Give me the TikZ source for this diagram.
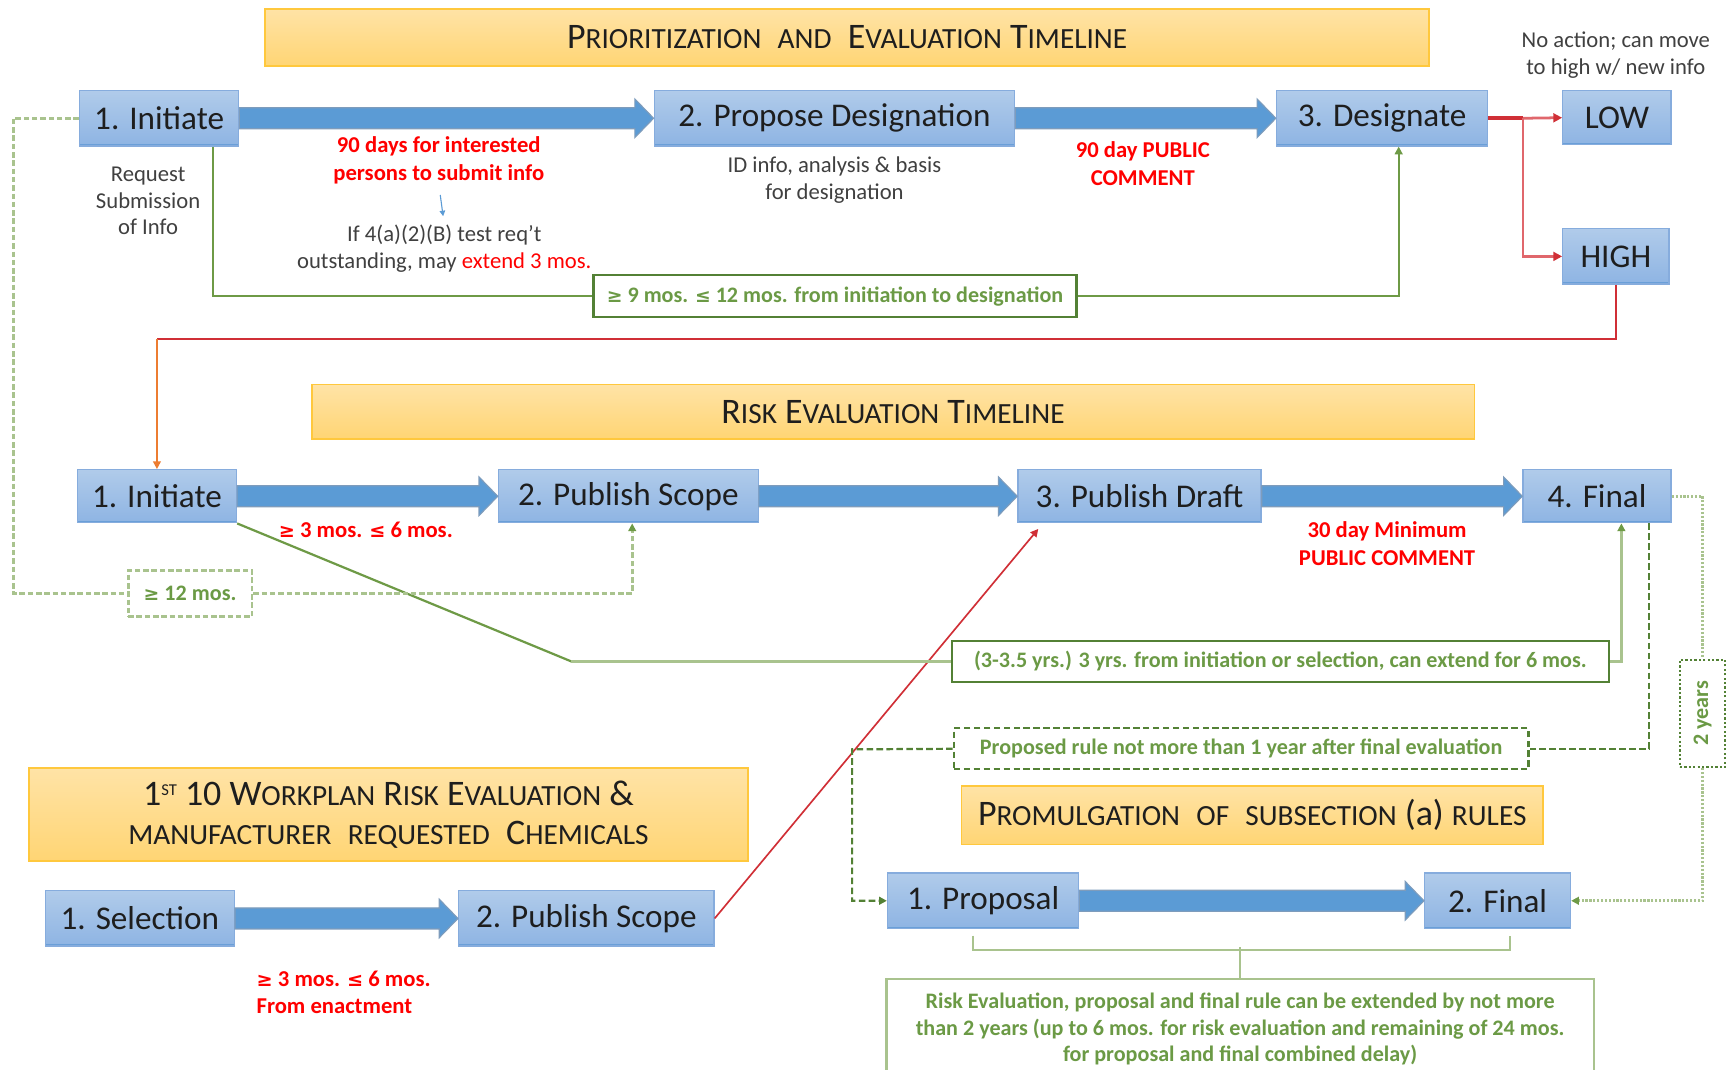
\documentclass[tikz,border=0pt]{standalone}
\usepackage{fontspec}
\setmainfont{Carlito}
\newfontfamily\symf{DejaVu Sans}[Scale=0.85]
\usetikzlibrary{arrows.meta,calc}
\definecolor{blueT}{HTML}{B0CBEA}
\definecolor{blueB}{HTML}{8EB4E3}
\definecolor{blueE}{HTML}{86ACDD}
\definecolor{blueD}{HTML}{6A9FD8}
\definecolor{arrF}{HTML}{5B9BD5}
\definecolor{arrE}{HTML}{7E9CBC}
\definecolor{ttlT}{HTML}{FFE3A6}
\definecolor{ttlB}{HTML}{FFD574}
\definecolor{ttlE}{HTML}{FFC83D}
\definecolor{redT}{HTML}{FF0000}
\definecolor{redL}{HTML}{D02F36}
\definecolor{redLL}{HTML}{E0676C}
\definecolor{orgL}{HTML}{ED7D31}
\definecolor{grnD}{HTML}{538135}
\definecolor{grnM}{HTML}{6E9A46}
\definecolor{grnL}{HTML}{A9C38E}
\definecolor{grnT}{HTML}{6B9A45}
\definecolor{txtD}{HTML}{1E1E1E}
\definecolor{txtG}{HTML}{404040}
\newcommand\gte{{\symf ≥}}
\newcommand\lte{{\symf ≤}}
\newcommand\sC[1]{{\fontsize{26.5}{30}\selectfont #1}}
\newcommand\barr[2]{\path[blockarr] let \p1=(#1.east), \p2=(#2.west) in
  (\x1,\y1+9.5pt) -- (\x2-17pt,\y1+9.5pt) -- (\x2-17pt,\y1+17.5pt) -- (\x2,\y1)
  -- (\x2-17pt,\y1-17.5pt) -- (\x2-17pt,\y1-9.5pt) -- (\x1,\y1-9.5pt) -- cycle;}
\tikzset{
  bbox/.style={rectangle, inner sep=0pt, minimum height=50pt, top color=blueT, bottom color=blueB,
    draw=blueE, line width=1.2pt, text=txtD, font=\fontsize{30}{36}\selectfont,
    path picture={\draw[blueD,line width=3pt] (path picture bounding box.south west) -- (path picture bounding box.south east);}},
  ttl/.style={rectangle, inner sep=0pt, top color=ttlT, bottom color=ttlB, draw=ttlE, line width=1.5pt,
    text=txtD, align=center, font=\fontsize{32.5}{36}\selectfont},
  lbl/.style={inner sep=0pt, align=center, text=txtG, font=\fontsize{20.5}{24}\selectfont},
  rlbl/.style={inner sep=0pt, align=center, text=redT, font=\bfseries\fontsize{20.5}{25}\selectfont},
  gbox/.style={rectangle, inner sep=0pt, draw=grnD, line width=2pt, fill=white, text=grnT,
    font=\bfseries\fontsize{20}{24}\selectfont, align=center},
  gline/.style={grnM, line width=2pt},
  glineL/.style={grnL, line width=3pt},
  darr/.style={-{Triangle[length=7pt,width=7pt]}},
  blockarr/.style={fill=arrF, draw=arrE, line width=1pt},
  dashL/.style={grnL, line width=3pt, dash pattern=on 5pt off 2.5pt},
  dashD/.style={grnD, line width=2pt, dash pattern=on 6pt off 3pt},
  dotL/.style={grnL, line width=3pt, dash pattern=on 2pt off 1.5pt},
  brk/.style={grnL, line width=2pt}
}
\begin{document}
\begin{tikzpicture}[x=1pt,y=-1pt]
\useasboundingbox (0,0) rectangle (1568,968);
\fill[white] (0,0) rectangle (1568,968);

% titles
\node[ttl, minimum width=1053pt, minimum height=52pt] (t1) at (766.5,34)
  {P\sC{RIORITIZATION}\ \ \sC{AND}\ \ E\sC{VALUATION}\ T\sC{IMELINE}};
\node[ttl, minimum width=1052pt, minimum height=49pt] (t2) at (808,372.5)
  {R\sC{ISK} E\sC{VALUATION} T\sC{IMELINE}};
\node[ttl, minimum width=651pt, minimum height=84pt] (t3) at (351.5,737)
  {1\raisebox{9pt}{\fontsize{15}{15}\selectfont ST} 10 W\sC{ORKPLAN} R\sC{ISK} E\sC{VALUATION} \&\\[-1pt]
   \sC{MANUFACTURER}\ \ \sC{REQUESTED}\ \ C\sC{HEMICALS}};
\node[ttl, minimum width=526pt, minimum height=53pt] (t4) at (1133,737.5)
  {P\sC{ROMULGATION}\ \ \sC{OF}\ \ \sC{SUBSECTION}\ (a)\ \sC{RULES}};

% row 1
\node[bbox, minimum width=144pt] (init1) at (144,107) {1. Initiate};
\node[bbox, minimum width=326pt] (prop) at (755,107) {2. Propose Designation};
\node[bbox, minimum width=191pt] (des) at (1250.5,107) {3. Designate};
\node[bbox, minimum width=98pt, minimum height=49pt] (low) at (1463,106.5) {LOW};
\node[bbox, minimum width=96pt] (high) at (1462,232) {HIGH};
\barr{init1}{prop}
\barr{prop}{des}

% row 2
\node[bbox, minimum width=144pt, minimum height=48pt] (rinit) at (142,449) {1. Initiate};
\node[bbox, minimum width=235pt, minimum height=48pt] (rscope) at (568.5,449) {2. Publish Scope};
\node[bbox, minimum width=220pt, minimum height=48pt] (rdraft) at (1031,449) {3. Publish Draft};
\node[bbox, minimum width=134pt, minimum height=48pt] (rfinal) at (1445,449) {4. Final};
\barr{rinit}{rscope}
\barr{rscope}{rdraft}
\barr{rdraft}{rfinal}

% row 3
\node[bbox, minimum width=171pt] (sel) at (126.5,831) {1. Selection};
\node[bbox, minimum width=231pt] (wscope) at (530.5,831) {2. Publish Scope};
\barr{sel}{wscope}

% row 4
\node[bbox, minimum width=173pt] (prop1) at (889.5,815) {1. Proposal};
\node[bbox, minimum width=132pt] (final2) at (1355,815) {2. Final};
\barr{prop1}{final2}

% labels
\node[lbl] (reqsub) at (134,182) {Request\\Submission\\of Info};
\node[rlbl] (d90) at (397,145) {90 days for interested\\persons to submit info};
\node[lbl] (iftest) at (402,225) {If 4(a)(2)(B) test req't\\outstanding, may \textcolor{redT}{extend 3 mos.}};
\node[lbl] (idinfo) at (755,163) {ID info, analysis \& basis\\for designation};
\node[rlbl] (pc90) at (1034,148) {90 day PUBLIC\\COMMENT};
\node[lbl] (noact) at (1462,50) {No action; can move\\to high w/ new info};
\node[rlbl] (r36) at (331,479) {\gte{} 3 mos. \lte{} 6 mos.};
\node[rlbl] (c30) at (1255,492) {30 day Minimum\\PUBLIC COMMENT};
\node[rlbl, align=left, anchor=west] (w36) at (232,898) {\gte{} 3 mos. \lte{} 6 mos.\\From enactment};

% green boxes
\node[gbox, minimum width=437pt, minimum height=38pt] (box9) at (755.5,268)
  {\gte{} 9 mos. \lte{} 12 mos. from initiation to designation};
\node[gbox, draw=grnL, line width=2.5pt, dash pattern=on 5pt off 2.5pt, minimum width=112pt, minimum height=42pt] (box12) at (172,537)
  {\gte{} 12 mos.};
\node[gbox, minimum width=595pt, minimum height=37pt] (box3y) at (1158.5,598.5)
  {(3-3.5 yrs.) 3 yrs. from initiation or selection, can extend for 6 mos.};
\node[gbox, draw=grnD, dash pattern=on 6pt off 3pt, minimum width=520pt, minimum height=37pt] (boxprop) at (1123,677.5)
  {Proposed rule not more than 1 year after final evaluation};
\node[gbox, line width=2pt, dash pattern=on 2pt off 2pt, minimum width=41pt, minimum height=97pt] (yrs) at (1540.5,645.5)
  {\rotatebox{90}{2 years}};
\node[gbox, draw=grnL, minimum width=640pt, minimum height=90pt] (botbox) at (1122,931)
  {Risk Evaluation, proposal and final rule can be extended by not more\\
   than 2 years (up to 6 mos. for risk evaluation and remaining of 24 mos.\\
   for proposal and final combined delay)};

% small blue arrow
\draw[arrF, line width=1pt, -{Triangle[length=5pt,width=5pt]}, shorten <=10pt, shorten >=8pt] (d90.south) -- (iftest.north);

% red connectors
\coordinate (jn) at (1378,107);
\draw[redL, line width=4pt] (des.east) -- (jn);
\draw[redLL, line width=2.5pt, -{Triangle[length=8pt,width=8pt,color=redL]}] (jn) -- (low.west);
\draw[redLL, line width=2.5pt, -{Triangle[length=8pt,width=8pt,color=redL]}] (jn) |- (high.west);
\coordinate (rc) at (142,307);
\draw[redL, line width=2pt] (high.south) |- (rc);
\draw[orgL, line width=1.5pt, darr] (rc) -- (rinit.north);
\draw[redL, line width=1.5pt, darr] (wscope.east) -- ($(rdraft.south west)+(19,5)$);

% green solid connectors
\draw[gline] ([xshift=49pt]init1.south) |- (box9.west);
\draw[gline, darr] (box9.east) -| ([xshift=15pt]des.south);
\coordinate (bend1) at (517,598.5);
\draw[gline] (rinit.south east) -- (bend1);
\draw[glineL] (bend1) -- (box3y.west);
\draw[glineL, -{Triangle[length=7pt,width=7pt,color=grnM]}] (box3y.east) -| ([xshift=22pt]rfinal.south);

% dashed connectors
\coordinate (lt) at (12,107);
\coordinate (lb) at (12,537);
\draw[dashL] (init1.west) -- (lt) -- (lb) -- (box12.west);
\draw[dashL, -{Triangle[length=7pt,width=7pt,color=grnM]}] (box12.east) -| ([xshift=3.5pt]rscope.south);
\draw[dashD] ([xshift=47pt]rfinal.south) |- (boxprop.east);
\coordinate (dl) at (771,678);
\draw[dashD, darr] (boxprop.west) -- (dl) |- (prop1.west);
\draw[dotL] (rfinal.east) -| (yrs.north);
\draw[dotL, -{Triangle[length=7pt,width=7pt,color=grnM]}] (yrs.south) |- (final2.east);

% bracket
\draw[brk] ($(prop1.south)+(-9.5,6)$) |- ($(final2.south)+(11,19)$) -- ($(final2.south)+(11,6)$);
\draw[brk] (botbox.north) -- +(0,-28);
\end{tikzpicture}
\end{document}
